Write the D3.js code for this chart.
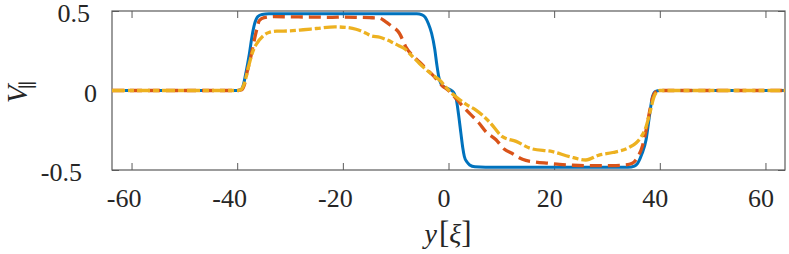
<!DOCTYPE html>
<html>
<head>
<meta charset="utf-8">
<script src="https://cdn.jsdelivr.net/npm/d3@7"></script>
<style>
  body { margin: 0; background: #fff; }
  svg { display: block; }
</style>
</head>
<body>
<script>
// chart area
var margin = { top: 11, right: 4, bottom: 84, left: 112 };
var width = 789 - margin.left - margin.right;
var height = 254 - margin.top - margin.bottom;

// tick values
var xTicks = [-60, -40, -20, 0, 20, 40, 60];
var yTicks = [-0.5, 0, 0.5];

// solid (blue) profile
var solidY = [-63.7, -40, -39.3, -38.8, -38.3, -37.7, -37.2, -36.7, -36.1, -35.3, -34, -20, -6, -5, -4.4,
  -3.8, -3.2, -2.6, -2.2, -1.8, -1.4, -0.8, 0, 0.6, 1.1, 1.5, 1.9, 2.35, 2.7, 3.0, 3.5, 4.0, 5.0, 7,
  20, 34, 35.2, 35.8, 36.6, 37.4, 38.0, 38.6, 39.2, 40, 63.7];
var solidV = [0, 0, 0.005, 0.04, 0.12, 0.23, 0.34, 0.42, 0.465, 0.478, 0.482, 0.483, 0.483, 0.476, 0.46,
  0.42, 0.36, 0.26, 0.16, 0.08, 0.04, 0.022, 0.01, 0.0, -0.02, -0.06, -0.15, -0.27, -0.36, -0.415, -0.45, -0.468, -0.48, -0.483,
  -0.483, -0.483, -0.475, -0.458, -0.40, -0.31, -0.17, -0.04, -0.005, 0, 0];

// dashed (orange) profile
var dashedY = [-63.7, -40, -39.1, -38.6, -38.1, -37.5, -37.0, -36.4, -35.8, -34.9, -33, -30, -26, -22, -20, -17,
  -15, -13.1, -12, -11, -9.3, -8, -6.5, -5.5, -4, -2.5, -1.2, 0, 1.4, 3.3, 5.8, 7.1, 9.0, 10.6, 12.0, 14.0, 16.5,
  19, 21, 23.5, 26, 29, 31, 33.3, 34.8, 35.8, 36.7, 37.4, 38.0, 38.6, 39.2, 40, 63.7];
var dashedV = [0, 0, 0.005, 0.04, 0.12, 0.2, 0.28, 0.37, 0.44, 0.458, 0.465, 0.463, 0.462, 0.46, 0.462, 0.46,
  0.458, 0.455, 0.435, 0.41, 0.36, 0.27, 0.21, 0.18, 0.13, 0.08, 0.03, 0.0, -0.05, -0.12, -0.206, -0.26, -0.31, -0.37, -0.395, -0.433, -0.45,
  -0.458, -0.465, -0.47, -0.472, -0.472, -0.472, -0.469, -0.458, -0.42, -0.35, -0.25, -0.143, -0.05, -0.01, 0, 0];

// dash-dot (yellow) profile
var dashdotY = [-63.7, -40, -39.3, -38.8, -38.3, -37.7, -37.1, -36.2, -35.2, -34, -32.5, -30, -27.5, -25, -21.5,
  -19.5, -17.5, -15.6, -14.7, -13, -10.9, -9.3, -8.4, -7, -5.5, -3.3, -1.7, -0.2, 1.4, 3.5, 5.2, 7.7, 10.2,
  12.8, 15.6, 19.7, 22.9, 26.0, 28.5, 31.1, 34.2, 35.5, 36.3, 37.4, 38.2, 38.8, 39.4, 40, 63.7];
var dashdotV = [0, 0, 0.005, 0.03, 0.087, 0.17, 0.24, 0.30, 0.34, 0.365, 0.373, 0.375, 0.382, 0.39, 0.40,
  0.397, 0.385, 0.36, 0.345, 0.335, 0.307, 0.28, 0.265, 0.22, 0.17, 0.105, 0.066, 0.01, -0.04, -0.09, -0.123, -0.196, -0.29,
  -0.32, -0.365, -0.385, -0.416, -0.437, -0.406, -0.39, -0.358, -0.33, -0.3, -0.228, -0.13, -0.05, -0.01, 0, 0];

var series = [
  { ys: solidY, vs: solidV, color: "#0072BD", dash: null, w: 3 },
  { ys: dashedY, vs: dashedV, color: "#D95319", dash: "12,6", w: 3.3 },
  { ys: dashdotY, vs: dashdotV, color: "#EDB120", dash: "13,3,6,3", w: 3.3 }
];

var font = "'Liberation Serif', 'DejaVu Serif', 'Times New Roman', serif";

// scales
var x = d3.scaleLinear().domain([-63.7, 63.7]).range([0, width]);
var y = d3.scaleLinear().domain([-0.5, 0.5]).range([height, 0]);

var svg = d3.select("body").append("svg")
  .attr("width", width + margin.left + margin.right)
  .attr("height", height + margin.top + margin.bottom)
  .attr("font-family", font);

svg.append("rect").attr("width", 789).attr("height", 254).attr("fill", "#fff");

var g = svg.append("g")
  .attr("transform", "translate(" + margin.left + "," + margin.top + ")");

// axes (ticks point inward)
var xAxis = g.append("g")
  .attr("transform", "translate(0," + height + ")")
  .call(d3.axisBottom(x).tickValues(xTicks).tickSizeInner(-7).tickSizeOuter(0)
    .tickFormat(function(d) { return String(d); }));
xAxis.selectAll("text")
  .attr("y", 37).attr("dy", 0)
  .attr("dx", function(d) { return d < 0 ? -8 : -5; });

g.append("g")
  .call(d3.axisTop(x).tickValues(xTicks).tickSizeInner(-7).tickSizeOuter(0).tickFormat(""));

var yLabelX = { "0.5": -22, "0": -15, "-0.5": -30 };
var yAxis = g.append("g")
  .call(d3.axisLeft(y).tickValues(yTicks).tickSizeInner(-7).tickSizeOuter(0)
    .tickFormat(function(d) { return String(d); }));
yAxis.selectAll("text")
  .attr("x", function(d) { return yLabelX[String(d)]; })
  .attr("dy", "0.42em");

g.append("g")
  .attr("transform", "translate(" + width + ",0)")
  .call(d3.axisRight(y).tickValues(yTicks).tickSizeInner(-7).tickSizeOuter(0).tickFormat(""));

g.selectAll(".domain").remove();
g.selectAll("g").attr("font-family", null);
g.selectAll(".tick line").attr("stroke", "#5a5a5a");
g.selectAll(".tick text")
  .attr("fill", "#262626")
  .style("font-family", font)
  .style("font-size", "26px");

// box
g.append("rect")
  .attr("width", width).attr("height", height)
  .attr("fill", "none").attr("stroke", "#5a5a5a").attr("stroke-width", 1.2);

// curves
g.append("clipPath").attr("id", "clip")
  .append("rect").attr("width", width).attr("height", height);

var line = d3.line()
  .x(function(d) { return x(d[0]); })
  .y(function(d) { return y(d[1]); })
  .curve(d3.curveMonotoneX);

series.forEach(function(s) {
  var pts = s.ys.map(function(v, i) { return [v, s.vs[i]]; });
  g.append("path")
    .datum(pts)
    .attr("clip-path", "url(#clip)")
    .attr("fill", "none")
    .attr("stroke", s.color)
    .attr("stroke-width", s.w)
    .attr("stroke-dasharray", s.dash)
    .attr("d", line);
});

// x label
var xl = svg.append("text")
  .attr("x", 448).attr("y", 243)
  .attr("text-anchor", "middle")
  .attr("fill", "#262626")
  .style("font-family", font)
  .style("font-size", "28px");
xl.append("tspan").style("font-style", "italic").text("y");
xl.append("tspan").style("font-size", "31px").attr("dx", 2).text("[");
xl.append("tspan").style("font-style", "italic").text("ξ");
xl.append("tspan").style("font-size", "31px").text("]");

// y label
var yl = svg.append("text")
  .attr("transform", "translate(27,92) rotate(-90)")
  .attr("text-anchor", "middle")
  .attr("fill", "#262626")
  .style("font-family", font)
  .style("font-size", "29px");
yl.append("tspan").style("font-style", "italic").text("V");
yl.append("tspan").style("font-size", "19px").attr("dx", -4).attr("dy", 7).text("∥");
</script>
</body>
</html>
